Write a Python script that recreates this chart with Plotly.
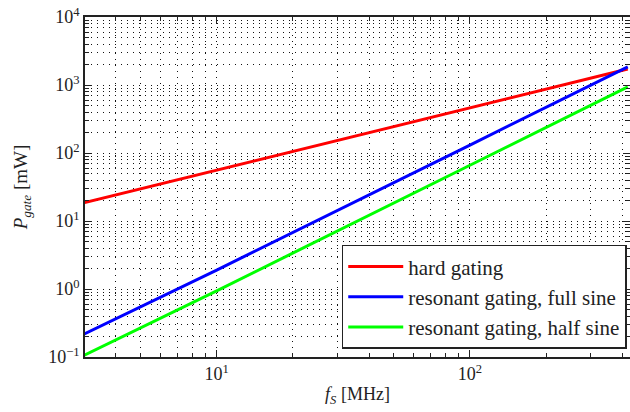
import plotly.graph_objects as go

f_mhz = [3, 10, 100, 420]
hard_gating = [18.6, 56, 457, 1720]
resonant_full = [0.218, 1.9, 131, 1850]
resonant_half = [0.106, 0.94, 66, 940]

names = ["hard gating", "resonant gating, full sine", "resonant gating, half sine"]
colors = ["#ff0000", "#0000ff", "#00ff00"]
series = [hard_gating, resonant_full, resonant_half]

x_ticks = [10, 100]
x_ticktext = ["10<sup>1</sup>", "10<sup>2</sup>"]
y_ticks = [0.1, 1, 10, 100, 1000, 10000]
y_ticktext = ["10<sup>−1</sup>", "10<sup>0</sup>", "10<sup>1</sup>",
              "10<sup>2</sup>", "10<sup>3</sup>", "10<sup>4</sup>"]

x_minor = [m * 10 ** e for e in range(0, 3) for m in range(2, 10)]
y_minor = [m * 10 ** e for e in range(-1, 4) for m in range(2, 10)]

fig = go.Figure()
for n, c, s in zip(names, colors, series):
    fig.add_trace(go.Scatter(x=f_mhz, y=s, mode="lines", name=n,
                             line=dict(color=c, width=3)))

font = "Liberation Serif, serif"
grid_style = dict(showgrid=True, gridcolor="#111", griddash="1px,5px", gridwidth=1)


def axis(tv, tt, minor_vals):
    return dict(
        type="log", showline=True, linecolor="#222", linewidth=1.5, mirror="ticks",
        ticks="inside", ticklen=7, tickcolor="#222",
        tickmode="array", tickvals=tv, ticktext=tt,
        zeroline=False, tickfont=dict(size=18, color="#222", family=font),
        automargin=False,
        minor=dict(ticks="inside", ticklen=4, tickcolor="#222",
                   tickmode="array", tickvals=minor_vals, **grid_style),
        **grid_style,
    )


xa = axis(x_ticks, x_ticktext, x_minor)
xa.update(range=[0.48, 2.632],
          title=dict(text="<i>f</i><sub><i>S</i></sub> [MHz]",
                     font=dict(size=18, family=font), standoff=4))
ya = axis(y_ticks, y_ticktext, y_minor)
ya.update(range=[-1, 4],
          title=dict(text="<i>P</i><sub><i>gate</i></sub> [mW]",
                     font=dict(size=19, family=font), standoff=16))

fig.update_layout(
    width=630, height=412,
    margin=dict(l=85, r=0, t=17, b=55),
    paper_bgcolor="white", plot_bgcolor="white",
    font=dict(family=font, color="#222", size=16),
    xaxis=xa, yaxis=ya,
    legend=dict(x=0.994, y=0.024, xanchor="right", yanchor="bottom",
                bgcolor="white", bordercolor="#222", borderwidth=1.5,
                font=dict(size=21, color="#222", family=font), itemwidth=55,
                tracegroupgap=0),
    showlegend=True,
)

fig.write_html("out.html", config={"displayModeBar": False},
               post_script="document.body.style.margin='0';document.body.style.overflow='hidden';")
